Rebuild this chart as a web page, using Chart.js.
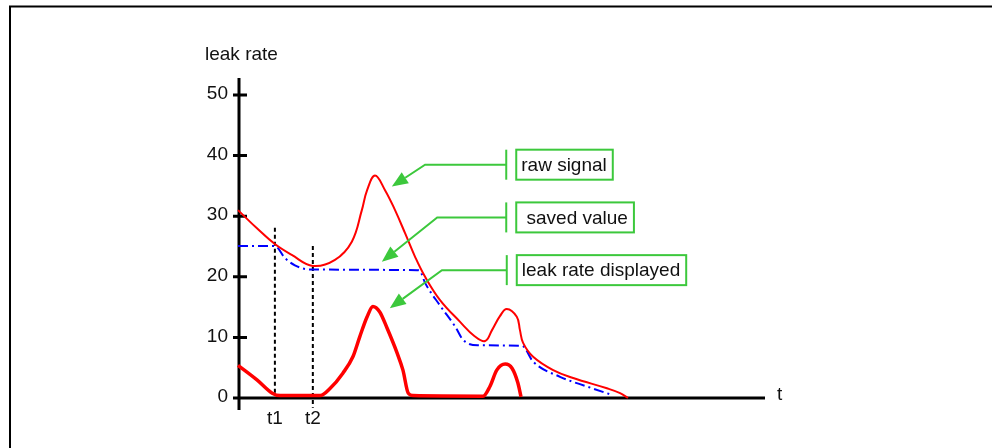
<!DOCTYPE html>
<html>
<head>
<meta charset="utf-8">
<script src="https://cdn.jsdelivr.net/npm/chart.js@4.4.1/dist/chart.umd.min.js"></script>
<style>
    html, body { margin: 0; padding: 0; background: #fff; }
    #wrap { position: relative; width: 992px; height: 448px; }
</style>
</head>
<body>
<div id="wrap"><canvas id="leakChart" width="992" height="448"></canvas></div>
<script>
// ─── Leak rate over time: raw / saved / displayed ───

// raw signal (thin red)
const rawTime   = [0, 3.6, 7.0, 10.2, 14.2, 18.4, 21.6, 23.5, 24.5, 26.0, 27.9, 29.8, 31.7, 33.6, 35.5, 38.3, 42.1, 44.9, 46.9, 48.2, 49.7, 51.0, 52.9, 53.5, 54.1, 56.0, 59.8, 63.6, 70.0, 72.5, 74.0];
const rawSignal = [31.0, 28.0, 25.4, 23.6, 21.8, 22.8, 25.8, 31.0, 34.3, 36.7, 34.3, 31.0, 27.2, 23.3, 20.0, 16.2, 12.6, 10.2, 9.4, 11.2, 13.5, 14.7, 13.4, 11.2, 9.1, 6.8, 4.6, 3.3, 1.6, 0.8, 0.0];

// saved value (blue dash-dot)
const savedTime  = [0, 7.0, 8.9, 10.8, 12.7, 14.6, 34.0, 34.5, 35.5, 38.3, 41.2, 42.7, 45.5, 53.9, 56.0, 61.1, 66.2, 71.0];
const savedValue = [25.1, 25.1, 23.1, 21.9, 21.3, 21.2, 21.1, 21.0, 19.0, 15.3, 11.8, 9.6, 8.7, 8.6, 6.0, 3.5, 1.9, 0.5];

// leak rate displayed (thick red)
const shownTime = [0, 3.6, 6.5, 8.0, 15.6, 17.5, 19.9, 21.8, 23.1, 24.5, 25.6, 26.9, 28.3, 30.2, 31.3, 32.3, 33.2, 46.5, 47.8, 49.1, 50.7, 52.0, 53.1, 53.7];
const shownRate = [5.4, 3.0, 0.8, 0.4, 0.4, 1.6, 4.1, 6.8, 10.1, 13.4, 15.1, 14.2, 11.5, 7.4, 4.6, 0.8, 0.4, 0.3, 1.9, 4.6, 5.6, 4.9, 2.5, 0.2];

const yTicks = [0, 10, 20, 30, 40, 50];

// t1 / t2 markers
const markerTimes  = [7.0, 14.2];
const markerLabels = ['t1', 't2'];
const markerTop    = [28.1, 25.1];
const markerBottom = [0.4, -1.6];

// callouts: text, arrow tip, elbow (data units)
const calloutTexts = ['raw signal', ' saved value', 'leak rate displayed'];
const calloutTips  = [[29.2, 34.9], [27.3, 22.5], [28.8, 14.8]];
const calloutElbow = [[35.5, 38.5], [37.8, 29.8], [38.7, 21.1]];
const calloutBarT  = [50.9, 50.9, 51.0];

const GREEN = '#3cc83c';
const FONT = '"Liberation Sans", Arial, sans-serif';

function zip(xs, ys) {
    return xs.map((x, i) => ({ x, y: ys[i] }));
}

const markerSets = markerTimes.map((t, i) => ({
    data: [{ x: t, y: markerTop[i] }, { x: t, y: markerBottom[i] }],
    borderColor: '#000',
    borderWidth: 2,
    borderDash: [4, 3],
    pointRadius: 0,
    tension: 0,
    clip: false
}));

const axesPlugin = {
    id: 'axes',
    beforeDatasetsDraw(chart) {
        const { ctx, scales: { x, y } } = chart;
        const x0 = x.getPixelForValue(0);
        const y0 = y.getPixelForValue(0);
        ctx.save();
        ctx.strokeStyle = '#000';
        ctx.lineWidth = 3;
        ctx.beginPath();
        ctx.moveTo(x0 + 1, y.getPixelForValue(50) - 17);
        ctx.lineTo(x0 + 1, y0 + 12);
        ctx.moveTo(x0 - 5, y0);
        ctx.lineTo(x.getPixelForValue(100), y0);
        yTicks.forEach(v => {
            const py = y.getPixelForValue(v);
            ctx.moveTo(x0 - 5, py);
            ctx.lineTo(x0 + 9, py);
        });
        ctx.stroke();

        ctx.fillStyle = '#111';
        ctx.font = '19px ' + FONT;
        ctx.textAlign = 'right';
        ctx.textBaseline = 'middle';
        yTicks.forEach(v => ctx.fillText(String(v), x0 - 10, y.getPixelForValue(v) - 1));

        ctx.textAlign = 'center';
        markerTimes.forEach((t, i) => ctx.fillText(markerLabels[i], x.getPixelForValue(t), y0 + 21));
        ctx.textAlign = 'left';
        ctx.fillText('t', x.getPixelForValue(100) + 12, y0 - 3);
        ctx.textBaseline = 'alphabetic';
        ctx.fillText('leak rate', x0 - 33, y.getPixelForValue(50) - 35);
        ctx.restore();
    }
};

const calloutPlugin = {
    id: 'callouts',
    afterDatasetsDraw(chart) {
        const { ctx, scales: { x, y } } = chart;
        ctx.save();
        ctx.strokeStyle = GREEN;
        ctx.fillStyle = GREEN;
        ctx.lineWidth = 2;
        ctx.font = '19px ' + FONT;
        calloutTexts.forEach((txt, i) => {
            const tx = x.getPixelForValue(calloutTips[i][0]);
            const ty = y.getPixelForValue(calloutTips[i][1]);
            const ex = x.getPixelForValue(calloutElbow[i][0]);
            const ey = y.getPixelForValue(calloutElbow[i][1]);
            const bx = x.getPixelForValue(calloutBarT[i]);

            // leader + arrow
            const ang = Math.atan2(ty - ey, tx - ex);
            const head = 16, half = 6.5;
            const hx = tx - Math.cos(ang) * head;
            const hy = ty - Math.sin(ang) * head;
            ctx.beginPath();
            ctx.moveTo(bx, ey);
            ctx.lineTo(ex, ey);
            ctx.lineTo(hx, hy);
            ctx.stroke();
            ctx.beginPath();
            ctx.moveTo(tx, ty);
            ctx.lineTo(hx + Math.sin(ang) * half, hy - Math.cos(ang) * half);
            ctx.lineTo(hx - Math.sin(ang) * half, hy + Math.cos(ang) * half);
            ctx.closePath();
            ctx.fill();

            // bar + box
            ctx.beginPath();
            ctx.moveTo(bx, ey - 15);
            ctx.lineTo(bx, ey + 15);
            ctx.stroke();
            const w = ctx.measureText(txt).width + 11;
            ctx.strokeRect(bx + 10, ey - 15, w, 30);
            ctx.fillStyle = '#111';
            ctx.textBaseline = 'middle';
            ctx.fillText(txt, bx + 15, ey + 1);
            ctx.fillStyle = GREEN;
        });
        ctx.restore();
    }
};

const framePlugin = {
    id: 'frame',
    afterDraw(chart) {
        const { ctx } = chart;
        ctx.save();
        ctx.strokeStyle = '#000';
        ctx.lineWidth = 2;
        ctx.beginPath();
        ctx.moveTo(10, 448);
        ctx.lineTo(10, 6.5);
        ctx.lineTo(992, 6.5);
        ctx.stroke();
        ctx.restore();
    }
};

new Chart(document.getElementById('leakChart'), {
    type: 'line',
    data: {
        datasets: [
            {
                data: zip(rawTime, rawSignal),
                borderColor: '#ff0000',
                borderWidth: 2,
                pointRadius: 0,
                tension: 0.4,
                clip: false
            },
            {
                data: zip(savedTime, savedValue),
                borderColor: '#0000ff',
                borderWidth: 2,
                borderDash: [10, 4, 2, 4],
                pointRadius: 0,
                cubicInterpolationMode: 'monotone',
                clip: false
            },
            {
                data: zip(shownTime, shownRate),
                borderColor: '#ff0000',
                borderWidth: 3.5,
                pointRadius: 0,
                cubicInterpolationMode: 'monotone',
                clip: false
            },
            ...markerSets
        ]
    },
    options: {
        responsive: false,
        animation: false,
        devicePixelRatio: 1,
        layout: { padding: { left: 238, right: 227, top: 95, bottom: 50 } },
        scales: {
            x: { type: 'linear', min: 0, max: 100, display: false },
            y: { min: 0, max: 50, display: false }
        },
        plugins: {
            legend: { display: false },
            tooltip: { enabled: false }
        }
    },
    plugins: [axesPlugin, calloutPlugin, framePlugin]
});
</script>
</body>
</html>
